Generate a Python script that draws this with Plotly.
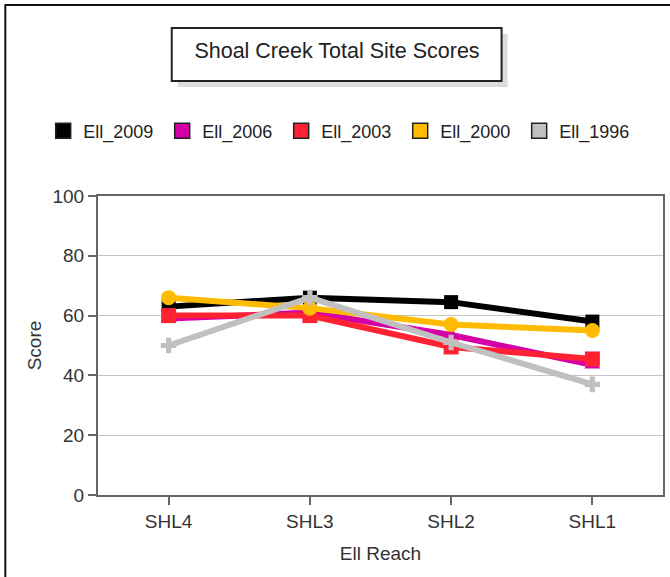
import plotly.graph_objects as go

reaches = ["SHL4", "SHL3", "SHL2", "SHL1"]
series_names = ["Ell_2009", "Ell_2006", "Ell_2003", "Ell_2000", "Ell_1996"]
ell_2009 = [63, 66, 64.5, 58]
ell_2006 = [59, 61, 53.5, 43.5]
ell_2003 = [60, 60, 49.5, 45.5]
ell_2000 = [66, 62.5, 57, 55]
ell_1996 = [50, 66, 51, 37]
y_ticks = [0, 20, 40, 60, 80, 100]

values = [ell_2009, ell_2006, ell_2003, ell_2000, ell_1996]
colors = ["#000000", "#d400a6", "#ff2233", "#ffbb00", "#c0c0c0"]
symbols = ["square", "triangle-up", "square", "circle", "cross"]
sizes = [14, 14, 15, 15, 13]

W, H = 670, 577
PL, PR, PT, PB = 98, 665, 196, 495
L, T = PL, PT
R = W - PR
B = H - PB
pw, ph = PR - PL, PB - PT


def px(x):
    return (x - PL) / pw


def py(y):
    return (PB - y) / ph


font_fam = "Liberation Sans, Arial, sans-serif"
fig = go.Figure()
for name, vals, col, sym, sz in zip(series_names, values, colors, symbols, sizes):
    fig.add_trace(go.Scatter(
        x=reaches, y=vals, mode="lines+markers", name=name,
        line=dict(color=col, width=6),
        marker=dict(symbol=sym, size=sz, color=col, line=dict(width=0)),
        showlegend=False,
    ))
for name, col in zip(series_names, colors):
    fig.add_trace(go.Scatter(
        x=[None], y=[None], mode="markers", name=name,
        marker=dict(symbol="square", size=15, color=col,
                    line=dict(color="#222222", width=1.5)),
        showlegend=True,
    ))

shapes = [
    dict(type="rect", xref="paper", yref="paper",
         x0=px(5), x1=px(720), y0=py(5), y1=py(640),
         line=dict(color="#111111", width=2), fillcolor="rgba(0,0,0,0)", layer="below"),
    dict(type="rect", xref="paper", yref="paper",
         x0=px(178), x1=px(509), y0=py(34), y1=py(87),
         line=dict(width=0), fillcolor="#dcdcdc", layer="below"),
    dict(type="rect", xref="paper", yref="paper",
         x0=px(172), x1=px(503), y0=py(28), y1=py(81),
         line=dict(color="#222222", width=2), fillcolor="white", layer="below"),
]

fig.update_layout(
    width=W, height=H,
    margin=dict(l=L, r=R, t=T, b=B),
    paper_bgcolor="white", plot_bgcolor="white",
    font=dict(family=font_fam, color="#333333", size=19),
    title=dict(text="Shoal Creek Total Site Scores", x=337 / W, xanchor="center",
               y=1 - 50 / H, yanchor="middle", yref="container",
               font=dict(size=21.5, color="#222222")),
    shapes=shapes,
    legend=dict(orientation="h", x=px(43), xanchor="left", y=py(131), yanchor="middle",
                font=dict(size=18, color="#222222"), itemwidth=30,
                entrywidth=74, entrywidthmode="pixels",
                bgcolor="rgba(0,0,0,0)", tracegroupgap=0),
    showlegend=True,
)
fig.update_xaxes(
    type="category", categoryorder="array", categoryarray=reaches,
    range=[-0.5, 3.5],
    showline=True, linecolor="#666666", linewidth=2, mirror=True,
    ticks="outside", ticklen=8, tickwidth=2, tickcolor="#666666",
    showgrid=False,
    title=dict(text="Ell Reach", standoff=16, font=dict(size=19)),
    tickfont=dict(size=19),
)
fig.update_yaxes(
    range=[0, 100], tickvals=y_ticks,
    showline=True, linecolor="#666666", linewidth=2, mirror=True,
    ticks="outside", ticklen=8, tickwidth=2, tickcolor="#666666",
    showgrid=True, gridcolor="#c4c4c4", gridwidth=1,
    zeroline=False,
    title=dict(text="Score", standoff=6, font=dict(size=19)),
    tickfont=dict(size=19),
)

fig.write_html("out.html", config={"displayModeBar": False},
               post_script="document.body.style.margin='0';")
